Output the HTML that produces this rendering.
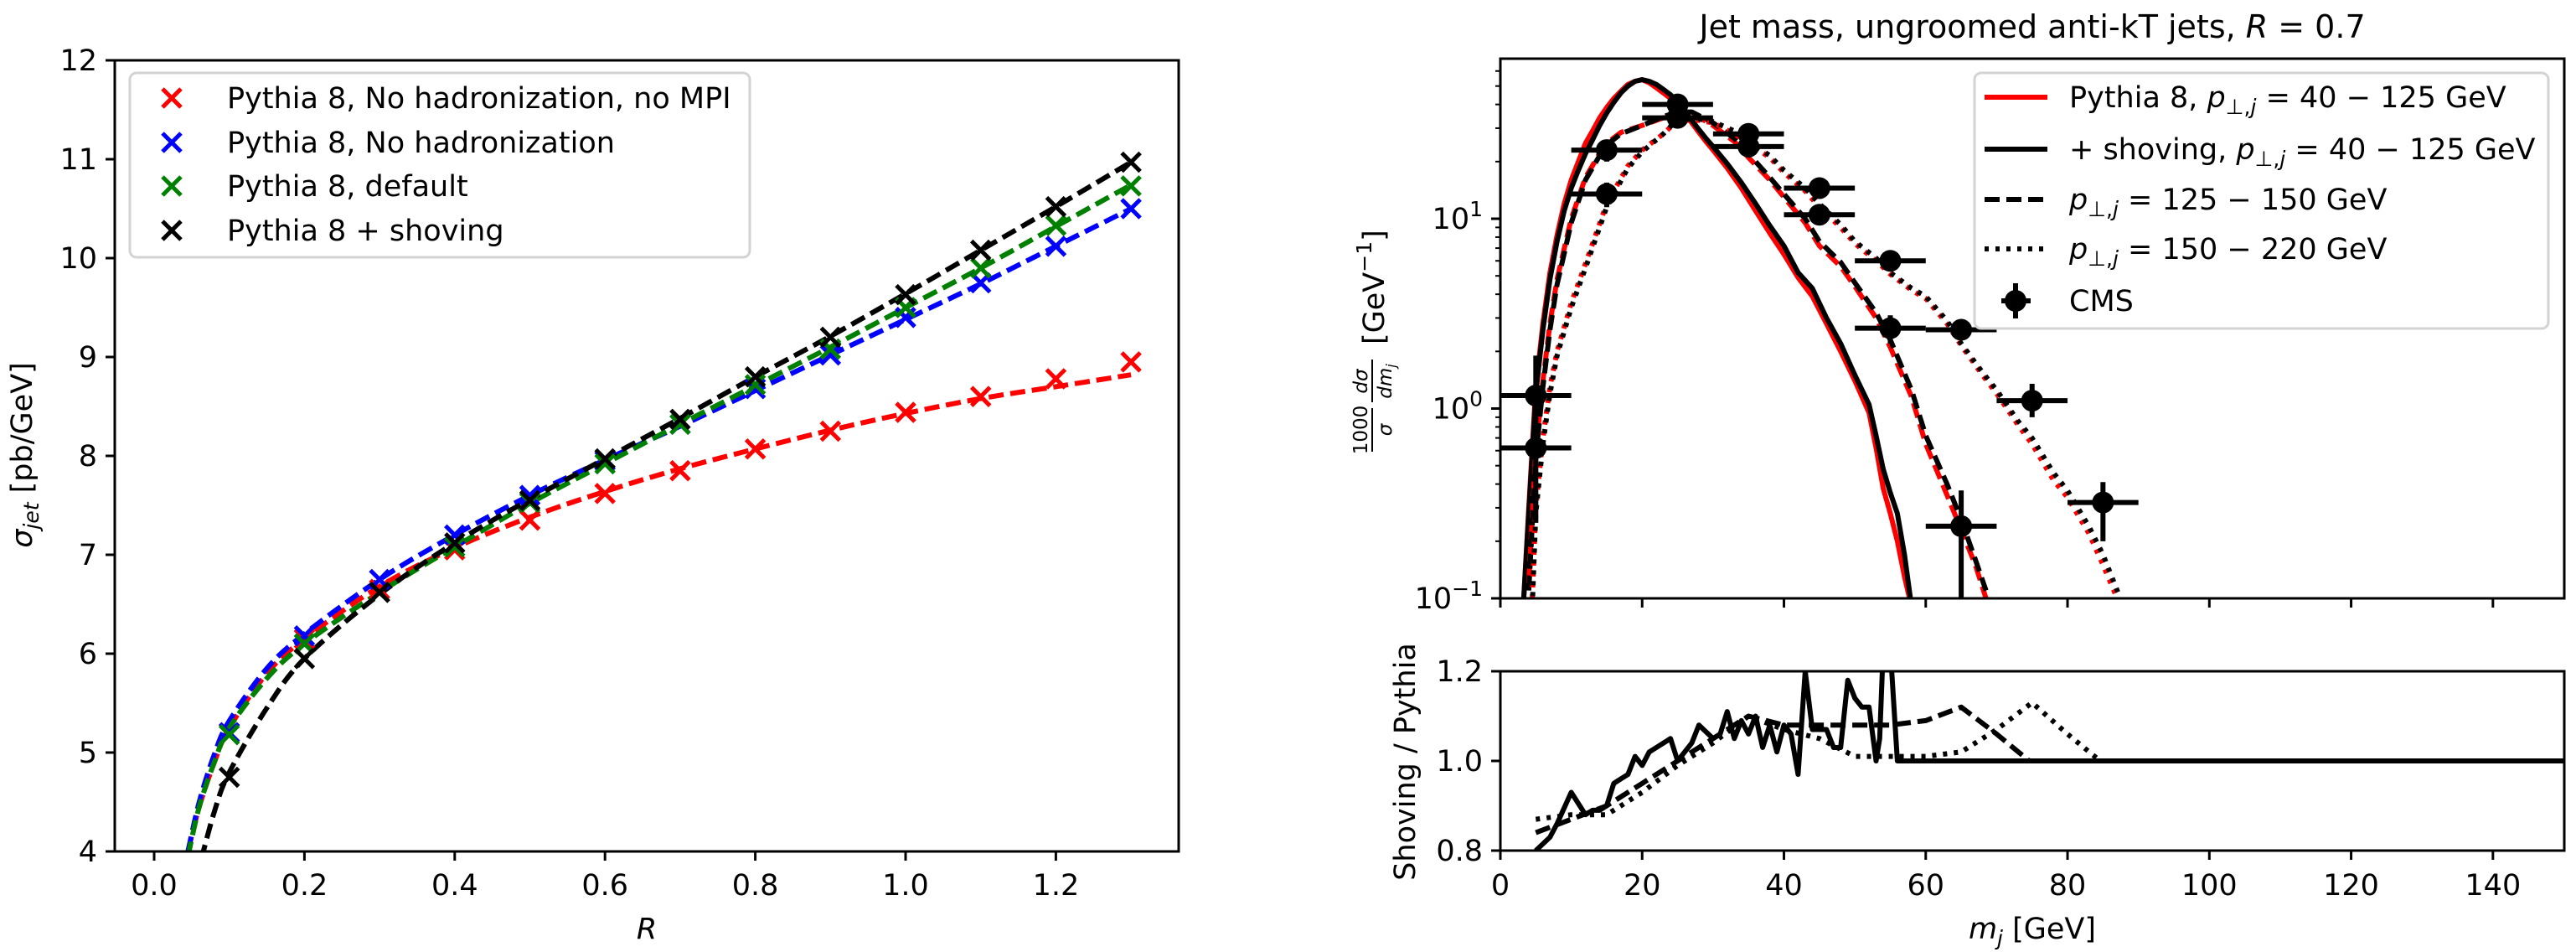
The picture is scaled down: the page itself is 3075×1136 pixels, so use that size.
<!DOCTYPE html>
<html><head><meta charset="utf-8">
<style>
html,body{margin:0;padding:0;background:#fff;}
svg{display:block;font-family:"DejaVu Sans","Liberation Sans",sans-serif;}
</style></head>
<body>
<svg id="fig" width="3075" height="1136" viewBox="0 0 3075 1136" xmlns="http://www.w3.org/2000/svg">
<defs>
<clipPath id="clipL"><rect x="137" y="72" width="1270" height="944"/></clipPath>
<clipPath id="clipM"><rect x="1791" y="70" width="1270" height="644"/></clipPath>
<clipPath id="clipR"><rect x="1791" y="801" width="1270" height="214"/></clipPath>
</defs>
<g id="left"></g>
<g id="right"></g>
</svg>
<script>
// ---------- LEFT CHART DATA ----------
const leftR = [0.1,0.2,0.3,0.4,0.5,0.6,0.7,0.8,0.9,1.0,1.1,1.2,1.3];
const redVals   = [5.2,6.15,6.65,7.05,7.35,7.62,7.85,8.07,8.25,8.44,8.6,8.78,8.95];
const blueVals  = [5.2,6.18,6.75,7.2,7.6,7.95,8.32,8.68,9.02,9.4,9.75,10.12,10.5];
const greenVals = [5.18,6.1,6.62,7.08,7.53,7.92,8.32,8.72,9.08,9.5,9.9,10.33,10.73];
const blackVals = [4.75,5.95,6.62,7.12,7.55,7.97,8.37,8.8,9.2,9.63,10.08,10.52,10.97];
const fitR = [0.045,0.06,0.08,0.1,0.15,0.2,0.3,0.4,0.5,0.6,0.7,0.8,0.9,1.0,1.1,1.2,1.3];
const redFit   = [4.0,4.45,4.9,5.25,5.8,6.15,6.68,7.07,7.38,7.64,7.87,8.07,8.26,8.43,8.58,8.7,8.82];
const blueFit  = [4.0,4.5,4.98,5.32,5.85,6.2,6.75,7.2,7.6,7.96,8.3,8.66,9.02,9.38,9.74,10.12,10.5];
const greenFit = [3.95,4.45,4.9,5.25,5.75,6.1,6.62,7.08,7.52,7.92,8.32,8.71,9.1,9.5,9.9,10.32,10.74];
const blackFit = [3.5,3.85,4.4,4.8,5.45,5.95,6.6,7.12,7.56,7.97,8.38,8.8,9.21,9.64,10.08,10.52,10.97];
const leftXTicks = [0.0,0.2,0.4,0.6,0.8,1.0,1.2];
const leftXTickLabels = ["0.0","0.2","0.4","0.6","0.8","1.0","1.2"];
const leftYTicks = [4,5,6,7,8,9,10,11,12];
const leftLegendLabels = ["Pythia 8, No hadronization, no MPI","Pythia 8, No hadronization","Pythia 8, default","Pythia 8 + shoving"];

// ---------- RIGHT CHART DATA ----------
const massSolid = [3.3,4,5,6,7,8,9,10,11,12,13,14,15,16,17,18,19,20,21,22,23,24,25,26,27,28,29,30,32,34,36,38,40,42,44,46,48,50,52,53,54,55,56,57,58];
const redSolid  = [0.1,0.3,1.3,2.8,5.2,8.2,12,16,20,25,29,34,38.5,43,47,51,53,54,52,49,46,43,40,36,32,28.5,25.5,23,18.5,14.5,11,8.4,6.5,4.9,3.9,2.8,2.0,1.4,0.95,0.62,0.38,0.28,0.2,0.13,0.09];
const blackSolid= [0.1,0.28,1.2,2.6,4.8,7.6,11,14.5,18,22,26,31,36,41,46,50,53,54,53,51,48,45,41,37,33,29.5,26.5,24,19.5,15.5,12,9.2,7.2,5.2,4.3,3.0,2.2,1.5,1.05,0.72,0.48,0.36,0.28,0.17,0.09];
const massDash  = [4,5,6,7,8,10,12,14,15,17,20,23,25,27,30,33,35,38,40,43,45,48,50,53,55,58,60,63,65,67,68.5];
const redDash   = [0.12,0.6,1.4,2.8,4.8,10,16.5,22,25,28.5,31,34,36,36,31,25.5,21,16,13,9.5,7.2,5.6,4.4,3.0,2.1,1.15,0.65,0.35,0.23,0.15,0.1];
const blackDash = [0.11,0.55,1.3,2.6,4.5,9.5,16,21.5,24.5,28,31,34.5,36.5,36.5,32,26.5,22,16.5,13.5,10,7.6,5.9,4.6,3.2,2.3,1.25,0.72,0.4,0.26,0.16,0.11];
const massDot   = [4.5,5,6,7,8,10,12,15,18,20,23,25,28,30,33,35,38,40,43,45,48,50,53,55,58,60,63,65,68,70,73,75,78,80,83,85,87,88.5];
const redDot    = [0.1,0.3,0.7,1.3,2.0,3.6,5.8,12,19,23,28,33,33,32,28,25,21,17.5,14,11.5,9,7.4,6.0,5.1,4.2,3.8,2.8,2.15,1.5,1.2,0.82,0.65,0.42,0.34,0.22,0.15,0.1,0.07];
const blackDot  = [0.09,0.28,0.65,1.2,1.9,3.4,5.5,11.5,18.5,22.5,28,33.5,33.5,32.5,29,25.5,21.5,18,14.5,12,9.3,7.6,6.2,5.2,4.3,3.9,2.9,2.2,1.55,1.25,0.86,0.7,0.46,0.37,0.24,0.17,0.11,0.08];
const cmsX   = [5,5,15,15,25,25,35,35,45,45,55,55,65,65,75,85];
const cmsY   = [1.17,0.62,23,13.5,40,34,28,24,14.5,10.5,6.0,2.65,2.6,0.24,1.1,0.32];
const cmsLo  = [0.62,0.25,20,11.5,36,30,25,21.5,13,9.5,5.6,2.2,2.3,0.1,0.9,0.2];
const cmsHi  = [1.9,0.8,26,15.5,44,38,31,27,16,11.5,6.5,3.1,2.9,0.37,1.35,0.41];
const ratioSolidX = [5,7,8,10,12,13,14,15,16,17,18,19,20,21,22,24,25,27,28,30,31,32,33,34,35,36,37,38,39,40,41,42,43,44,45,46,47,48,49,50,51,52,53,53.5,54,55,56,57,150];
const ratioSolidY = [0.8,0.83,0.86,0.93,0.88,0.89,0.89,0.9,0.95,0.96,0.97,1.01,0.99,1.02,1.03,1.05,1.0,1.04,1.08,1.05,1.06,1.11,1.05,1.09,1.06,1.1,1.03,1.08,1.02,1.08,1.06,0.97,1.2,1.07,1.07,1.07,1.03,1.03,1.18,1.14,1.12,1.12,1.0,1.05,1.25,1.25,1.0,1.0,1.0];
const ratioDashX = [5,10,15,20,25,30,35,40,45,50,55,60,65,70,74.6,150];
const ratioDashY = [0.84,0.87,0.9,0.95,1.0,1.05,1.1,1.08,1.08,1.08,1.08,1.09,1.12,1.06,1.0,1.0];
const ratioDotX = [5,10,15,20,25,30,35,40,45,50,55,60,65,70,75,80,84.6,150];
const ratioDotY = [0.87,0.88,0.88,0.93,0.99,1.04,1.1,1.07,1.05,1.01,1.01,1.01,1.02,1.07,1.13,1.06,1.0,1.0];
const rightXTicks = [0,20,40,60,80,100,120,140];
const ratioYTicks = [0.8,1.0,1.2];
const ratioYTickLabels = ["0.8","1.0","1.2"];

// ---------- helpers ----------
const NS = "http://www.w3.org/2000/svg";
function mk(tag, parent, attrs){ const e=document.createElementNS(NS,tag); for(const k in attrs) e.setAttribute(k,attrs[k]); parent.appendChild(e); return e; }
const FS = 35;
const LW = 6;

const xL = r => 184 + r*897;
const yL = v => 1016 - (v-4)*118;
const xR = m => 1791 + m*8.463;
const yM = v => 714 - (Math.log10(v)+1)*226.5;
const yRat = r => 1015 - (r-0.8)*535;

function smoothPath(pts){
  let d = "M"+pts[0][0].toFixed(1)+","+pts[0][1].toFixed(1);
  for(let i=0;i<pts.length-1;i++){
    const p0=pts[i-1]||pts[i], p1=pts[i], p2=pts[i+1], p3=pts[i+2]||p2;
    const c1=[p1[0]+(p2[0]-p0[0])/6, p1[1]+(p2[1]-p0[1])/6];
    const c2=[p2[0]-(p3[0]-p1[0])/6, p2[1]-(p3[1]-p1[1])/6];
    d+=" C"+c1[0].toFixed(1)+","+c1[1].toFixed(1)+" "+c2[0].toFixed(1)+","+c2[1].toFixed(1)+" "+p2[0].toFixed(1)+","+p2[1].toFixed(1);
  }
  return d;
}
function linePath(xs, ys, fx, fy){
  return xs.map((x,i)=>(i?"L":"M")+fx(x).toFixed(1)+","+fy(ys[i]).toFixed(1)).join(" ");
}

// ---------- LEFT CHART ----------
const L = document.getElementById("left");
const leftPlot = mk("g", L, {"clip-path":"url(#clipL)"});


const leftSeries = [
  {name:"red",color:"#ff0000",vals:redVals,fit:redFit},
  {name:"blue",color:"#0000ff",vals:blueVals,fit:blueFit},
  {name:"green",color:"#008000",vals:greenVals,fit:greenFit},
  {name:"black",color:"#000000",vals:blackVals,fit:blackFit}
];
leftSeries.forEach(s=>{
  const pts = fitR.map((r,i)=>[xL(r), yL(s.fit[i])]);
  const p = mk("path", leftPlot, {d:smoothPath(pts), fill:"none", stroke:s.color, "stroke-width":LW, "stroke-dasharray":"18,8"});
  
  
});
leftSeries.forEach(s=>{
  s.vals.forEach((v,i)=>{
    const cx=xL(leftR[i]), cy=yL(v), h=11;
    const m = mk("path", leftPlot, {d:`M${cx-h},${cy-h}L${cx+h},${cy+h}M${cx-h},${cy+h}L${cx+h},${cy-h}`, stroke:s.color, "stroke-width":5, fill:"none"});
    
    
  });
});
const lframe = mk("rect", L, {x:137,y:72,width:1270,height:944,fill:"none",stroke:"#000","stroke-width":3});


leftXTicks.forEach((t,i)=>{
  const x=xL(t);
  const tk=mk("line",L,{x1:x,y1:1016,x2:x,y2:1027,stroke:"#000","stroke-width":3});
  
  
  const tl=mk("text",L,{x:x,y:1068,"font-size":FS,"text-anchor":"middle"});
  tl.textContent=leftXTickLabels[i];
  
  
});
leftYTicks.forEach(t=>{
  const y=yL(t);
  const tk=mk("line",L,{x1:126,y1:y,x2:137,y2:y,stroke:"#000","stroke-width":3});
  
  
  const tl=mk("text",L,{x:116,y:y+12,"font-size":FS,"text-anchor":"end"});
  tl.textContent=String(t);
  
  
});
const xlabL = mk("text",L,{x:772,y:1120,"font-size":FS,"text-anchor":"middle","font-style":"italic"});
xlabL.textContent="R";


const ylabL = mk("text",L,{x:0,y:0,"font-size":FS,"text-anchor":"middle",transform:"translate(38,543) rotate(-90)"});
ylabL.innerHTML='<tspan font-style="italic">σ</tspan><tspan font-size="25" font-style="italic" dy="8">jet</tspan><tspan dy="-8"> [pb/GeV]</tspan>';


const lleg = mk("g",L,{});


mk("rect",lleg,{x:155,y:87,width:740,height:220,rx:8,fill:"#fff","fill-opacity":0.8,stroke:"#d3d3d3","stroke-width":3});
const legY=[117,170,222,275];
leftSeries.forEach((s,i)=>{
  const cx=205, cy=legY[i], h=11;
  const m=mk("path",lleg,{d:`M${cx-h},${cy-h}L${cx+h},${cy+h}M${cx-h},${cy+h}L${cx+h},${cy-h}`,stroke:s.color,"stroke-width":5});
  
  
  const t=mk("text",lleg,{x:271,y:cy+12,"font-size":FS});
  t.textContent=leftLegendLabels[i];
  
  
});

// ---------- RIGHT CHART ----------
const R = document.getElementById("right");
const title = mk("text",R,{x:2426,y:45,"font-size":38,"text-anchor":"middle"});
title.innerHTML='Jet mass, ungroomed anti-kT jets, <tspan font-style="italic">R</tspan> = 0.7';



const mainPlot = mk("g",R,{"clip-path":"url(#clipM)"});


const mainSeries = [
  {n:"red-solid",x:massSolid,y:redSolid,c:"#ff0000",dash:null},
  {n:"black-solid",x:massSolid,y:blackSolid,c:"#000",dash:null},
  {n:"red-dashed",x:massDash,y:redDash,c:"#ff0000",dash:"18,8"},
  {n:"black-dashed",x:massDash,y:blackDash,c:"#000",dash:"18,8"},
  {n:"red-dotted",x:massDot,y:redDot,c:"#ff0000",dash:"5,8"},
  {n:"black-dotted",x:massDot,y:blackDot,c:"#000",dash:"5,8"}
];
mainSeries.forEach(s=>{
  const a={d:linePath(s.x,s.y,xR,yM),fill:"none",stroke:s.c,"stroke-width":LW,"stroke-linejoin":"round"};
  if(s.dash) a["stroke-dasharray"]=s.dash;
  const p=mk("path",mainPlot,a);
  
  
});
cmsX.forEach((m,i)=>{
  const g=mk("g",mainPlot,{});
  
  
  mk("line",g,{x1:xR(m-5),y1:yM(cmsY[i]),x2:xR(m+5),y2:yM(cmsY[i]),stroke:"#000","stroke-width":LW});
  mk("line",g,{x1:xR(m),y1:yM(cmsLo[i]),x2:xR(m),y2:yM(cmsHi[i]),stroke:"#000","stroke-width":LW});
  mk("circle",g,{cx:xR(m),cy:yM(cmsY[i]),r:13,fill:"#000"});
});
const mframe=mk("rect",R,{x:1791,y:70,width:1270,height:644,fill:"none",stroke:"#000","stroke-width":3});


[-1,0,1].forEach(e=>{
  const y=yM(Math.pow(10,e));
  mk("line",R,{x1:1780,y1:y,x2:1791,y2:y,stroke:"#000","stroke-width":3});
  const t=mk("text",R,{x:1770,y:y+12,"font-size":FS,"text-anchor":"end"});
  t.innerHTML='10<tspan font-size="25" dy="-15">'+(e<0?'−1':e)+'</tspan>';
  
  
});
[-1,0,1].forEach(e=>{
  for(let k=2;k<=9;k++){
    const v=k*Math.pow(10,e); const y=yM(v);
    if(y<70) continue;
    mk("line",R,{x1:1785,y1:y,x2:1791,y2:y,stroke:"#000","stroke-width":2});
  }
});
rightXTicks.forEach(t=>{
  const x=xR(t);
  mk("line",R,{x1:x,y1:714,x2:x,y2:725,stroke:"#000","stroke-width":3});
  mk("line",R,{x1:x,y1:1015,x2:x,y2:1026,stroke:"#000","stroke-width":3});
  const tl=mk("text",R,{x:x,y:1068,"font-size":FS,"text-anchor":"middle"});
  tl.textContent=String(t);
  
  
});
const ylabM=mk("g",R,{transform:"translate(1640,391) rotate(-90)"});


ylabM.innerHTML='<text x="-122" y="-8" font-size="23" text-anchor="middle">1000</text><text x="-122" y="21" font-size="23" text-anchor="middle" font-style="italic">σ</text><line x1="-148" y1="-2" x2="-96" y2="-2" stroke="#000" stroke-width="2"/><text x="-64" y="-8" font-size="23" text-anchor="middle" font-style="italic">dσ</text><text x="-64" y="21" font-size="23" text-anchor="middle" font-style="italic">dm<tspan font-size="16" dy="5">j</tspan></text><line x1="-89" y1="-2" x2="-38" y2="-2" stroke="#000" stroke-width="2"/><text x="-20" y="12" font-size="35">[GeV<tspan font-size="25" dy="-15">−1</tspan><tspan dy="15">]</tspan></text>';
const rleg=mk("g",R,{});


mk("rect",rleg,{x:2357,y:87,width:685,height:305,rx:8,fill:"#fff","fill-opacity":0.8,stroke:"#d3d3d3","stroke-width":3});
const rLegY=[116,178,238,297,359];
const rLegStyles=[["#ff0000",null],["#000",null],["#000","18,8"],["#000","5,8"]];
const pj='<tspan font-style="italic">p</tspan><tspan font-size="25" dy="8">⊥,<tspan font-style="italic">j</tspan></tspan><tspan dy="-8"> = </tspan>';
const rLegHtml=['Pythia 8, '+pj+'40 − 125 GeV','+ shoving, '+pj+'40 − 125 GeV',pj+'125 − 150 GeV',pj+'150 − 220 GeV','CMS'];
rLegStyles.forEach((s,i)=>{
  const a={x1:2369,y1:rLegY[i],x2:2444,y2:rLegY[i],stroke:s[0],"stroke-width":LW};
  if(s[1]) a["stroke-dasharray"]=s[1];
  const l=mk("line",rleg,a);
  
  
});
mk("line",rleg,{x1:2389,y1:359,x2:2424,y2:359,stroke:"#000","stroke-width":LW});
mk("line",rleg,{x1:2406,y1:338,x2:2406,y2:380,stroke:"#000","stroke-width":LW});
mk("circle",rleg,{cx:2406,cy:359,r:13,fill:"#000"});
rLegHtml.forEach((h,i)=>{
  const t=mk("text",rleg,{x:2470,y:rLegY[i]+12,"font-size":FS});
  t.innerHTML=h;
  
  
});

const ratPlot=mk("g",R,{"clip-path":"url(#clipR)"});


[[ratioDashX,ratioDashY,"18,8","ratio-dashed"],[ratioDotX,ratioDotY,"5,8","ratio-dotted"],[ratioSolidX,ratioSolidY,null,"ratio-solid"]].forEach(s=>{
  const a={d:linePath(s[0],s[1],xR,yRat),fill:"none",stroke:"#000","stroke-width":LW,"stroke-linejoin":"round"};
  if(s[2]) a["stroke-dasharray"]=s[2];
  const p=mk("path",ratPlot,a);
  
  
});
const rframe=mk("rect",R,{x:1791,y:801,width:1270,height:214,fill:"none",stroke:"#000","stroke-width":3});


ratioYTicks.forEach((t,i)=>{
  const y=yRat(t);
  mk("line",R,{x1:1780,y1:y,x2:1791,y2:y,stroke:"#000","stroke-width":3});
  const tl=mk("text",R,{x:1770,y:y+12,"font-size":FS,"text-anchor":"end"});
  tl.textContent=ratioYTickLabels[i];
  
  
});
const ylabR=mk("text",R,{x:0,y:0,"font-size":FS,"text-anchor":"middle",transform:"translate(1689,909) rotate(-90)"});
ylabR.textContent="Shoving / Pythia";


const xlabR=mk("text",R,{x:2426,y:1120,"font-size":FS,"text-anchor":"middle"});
xlabR.innerHTML='<tspan font-style="italic">m</tspan><tspan font-size="25" font-style="italic" dy="8">j</tspan><tspan dy="-8"> [GeV]</tspan>';


</script>
</body></html>
